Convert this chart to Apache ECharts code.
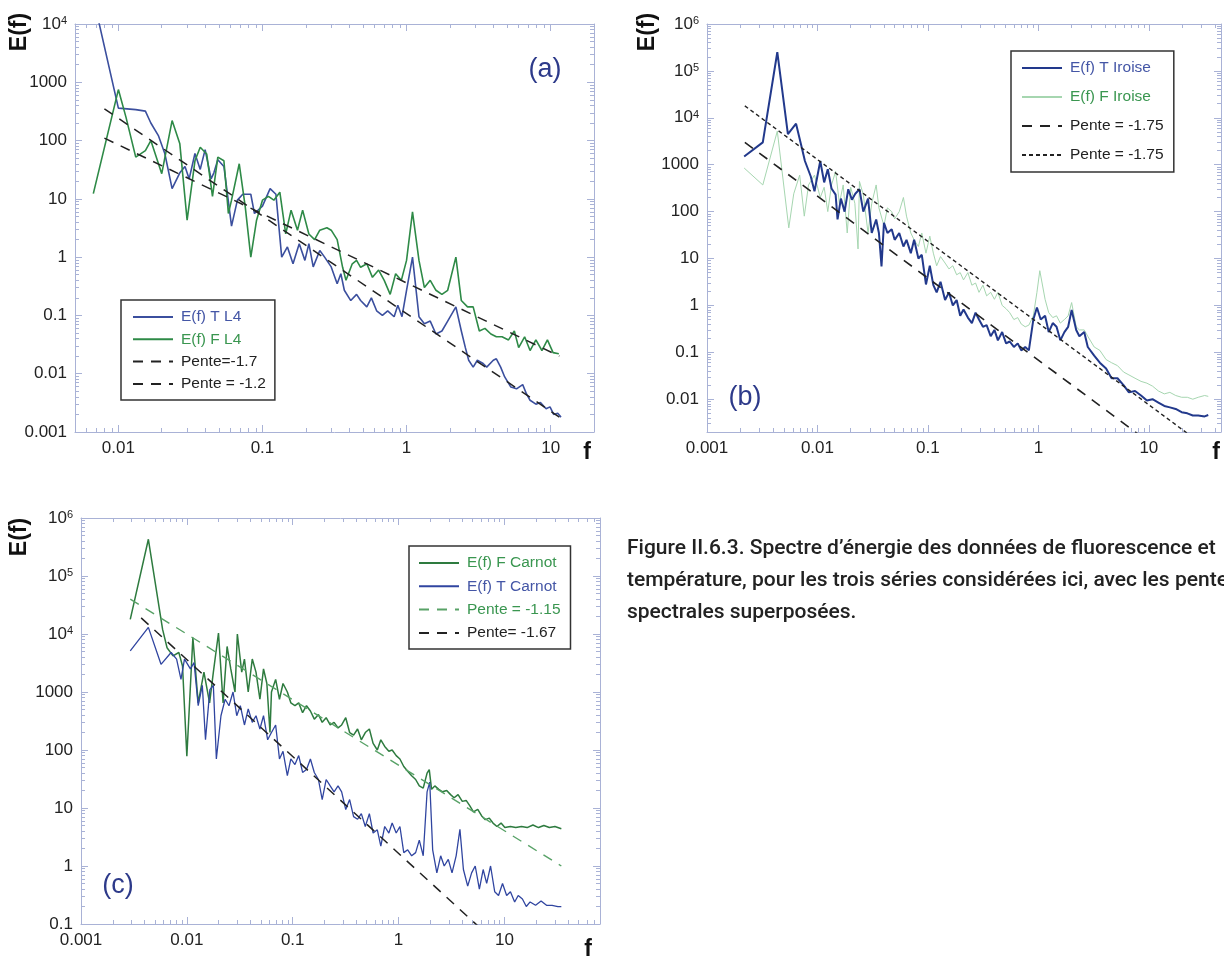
<!DOCTYPE html>
<html>
<head>
<meta charset="utf-8">
<title>Spectres d'énergie</title>
<script src="https://cdn.jsdelivr.net/npm/echarts@6/dist/echarts.min.js"></script>
<style>
html, body { margin: 0; padding: 0; background: #fff; }
#main { width: 1224px; height: 961px; }
</style>
</head>
<body>
<div id="main"></div>
<script>
// ---- panel (a) : L4  [f, E(f)]
var tL4 = [[0.0068,24000],[0.01,360],[0.0132,340],[0.0154,320],[0.0168,200],[0.019,120],[0.021,60],[0.0236,15],[0.0267,28],[0.029,36],[0.031,22],[0.034,60],[0.037,32],[0.04,70],[0.044,22],[0.046,28],[0.049,47],[0.054,36],[0.061,3.4],[0.067,9.5],[0.073,12],[0.078,12],[0.083,12],[0.088,5.6],[0.1,7.5],[0.113,15],[0.124,12],[0.136,1.0],[0.149,1.5],[0.163,0.77],[0.18,1.7],[0.197,0.88],[0.21,1.7],[0.225,0.68],[0.25,1.3],[0.27,1.0],[0.3,0.68],[0.33,0.35],[0.35,0.52],[0.37,0.27],[0.41,0.18],[0.45,0.23],[0.48,0.18],[0.53,0.14],[0.57,0.2],[0.62,0.12],[0.68,0.1],[0.74,0.12],[0.82,0.095],[0.87,0.15],[0.93,0.095],[1.0,0.27],[1.1,1.0],[1.22,0.095],[1.33,0.072],[1.46,0.08],[1.6,0.048],[1.76,0.054],[1.93,0.08],[2.2,0.14],[2.4,0.054],[2.56,0.028],[2.7,0.017],[2.9,0.013],[3.1,0.017],[3.4,0.015],[3.6,0.013],[4.0,0.017],[4.2,0.018],[4.5,0.013],[4.8,0.0088],[5.3,0.0059],[5.8,0.0055],[6.4,0.0065],[6.8,0.0045],[7.2,0.0035],[7.9,0.003],[8.5,0.0032],[9.3,0.0025],[9.9,0.0027],[10.5,0.002],[11.2,0.0021],[11.8,0.0018]];
var fL4 = [[0.0067,12.3],[0.01,750],[0.0113,250],[0.0132,52],[0.0154,67],[0.0168,100],[0.02,27],[0.0236,220],[0.0267,88],[0.03,4.3],[0.034,45],[0.037,77],[0.041,59],[0.045,11],[0.049,52],[0.054,45],[0.058,5.6],[0.061,9.5],[0.069,40],[0.076,7.2],[0.083,1.0],[0.091,4.3],[0.1,9.5],[0.11,11],[0.12,9.5],[0.132,13],[0.145,2.5],[0.158,6.4],[0.175,2.9],[0.19,6.4],[0.21,2.5],[0.23,2.0],[0.25,2.9],[0.28,3.2],[0.3,2.9],[0.33,2.0],[0.36,0.67],[0.38,0.4],[0.42,0.77],[0.45,0.88],[0.48,0.67],[0.53,0.77],[0.58,0.45],[0.64,0.6],[0.7,0.4],[0.77,0.23],[0.84,0.52],[0.92,0.4],[1.0,0.88],[1.1,6.0],[1.22,0.88],[1.33,0.3],[1.46,0.4],[1.6,0.27],[1.76,0.23],[1.93,0.27],[2.2,1.0],[2.4,0.18],[2.65,0.14],[2.9,0.14],[3.2,0.054],[3.5,0.06],[3.85,0.048],[4.2,0.043],[4.6,0.043],[5.1,0.038],[5.6,0.054],[6.0,0.028],[6.6,0.043],[7.2,0.025],[7.9,0.038],[8.7,0.025],[9.5,0.038],[10.4,0.023],[11.4,0.022]];
var penteA1 = [[0.008,350],[11.5,0.0018]];   // -1.7
var penteA2 = [[0.008,110],[11.5,0.02]];     // -1.2

// ---- panel (b) : Iroise
var tIroise = [[0.00217,1500],[0.0032,3000],[0.00433,250000],[0.0054,4500],[0.0064,7500],[0.0071,2700],[0.0077,1200],[0.0087,560],[0.0094,270],[0.0106,1200],[0.0115,420],[0.0124,800],[0.0134,310],[0.0146,230],[0.0152,68],[0.0163,190],[0.0176,100],[0.019,300],[0.0205,180],[0.022,240],[0.024,300],[0.026,100],[0.0287,190],[0.031,35],[0.034,68],[0.036,35],[0.038,6.8],[0.04,58],[0.043,35],[0.047,42],[0.05,25],[0.055,35],[0.06,18],[0.064,25],[0.07,13],[0.075,25],[0.082,10],[0.088,12],[0.096,2.8],[0.104,7],[0.112,2.7],[0.12,1.9],[0.13,3.2],[0.143,1.3],[0.155,1.9],[0.168,1.0],[0.182,1.3],[0.196,0.6],[0.21,0.82],[0.23,0.55],[0.25,0.42],[0.27,0.7],[0.29,0.5],[0.315,0.35],[0.34,0.38],[0.37,0.22],[0.4,0.3],[0.43,0.18],[0.47,0.27],[0.51,0.155],[0.55,0.17],[0.6,0.13],[0.65,0.155],[0.7,0.11],[0.76,0.13],[0.82,0.11],[0.9,0.5],[0.97,0.9],[1.05,0.5],[1.15,0.6],[1.24,0.27],[1.35,0.42],[1.46,0.35],[1.58,0.18],[1.72,0.27],[1.86,0.35],[2.0,0.8],[2.2,0.3],[2.35,0.22],[2.6,0.27],[2.8,0.13],[3.2,0.085],[3.6,0.06],[4.1,0.045],[4.6,0.028],[5.2,0.028],[5.9,0.02],[6.6,0.014],[7.5,0.015],[8.5,0.012],[9.6,0.0094],[10.8,0.01],[12.2,0.0085],[13.8,0.0072],[15.5,0.0067],[17.5,0.0062],[19.8,0.0053],[22.3,0.005],[25,0.0045],[28,0.0045],[32,0.0043],[34.5,0.0046]];
var fIroise = [[0.00217,850],[0.0032,370],[0.00433,5200],[0.0055,45],[0.0061,240],[0.0069,600],[0.0076,80],[0.0083,370],[0.0094,600],[0.0106,200],[0.0115,330],[0.0124,100],[0.0134,370],[0.0146,720],[0.0158,150],[0.0171,370],[0.0186,35],[0.02,330],[0.0218,150],[0.0233,16],[0.024,440],[0.026,230],[0.0287,35],[0.031,150],[0.034,370],[0.036,120],[0.04,50],[0.043,120],[0.047,100],[0.05,70],[0.055,100],[0.06,200],[0.064,80],[0.07,35],[0.075,25],[0.082,18],[0.088,35],[0.096,13],[0.104,30],[0.112,13],[0.12,7],[0.13,11],[0.143,8],[0.155,6],[0.168,7],[0.182,4.5],[0.196,5],[0.21,3.5],[0.23,5],[0.25,2.7],[0.27,3],[0.29,1.9],[0.315,2.7],[0.34,1.6],[0.37,1.9],[0.4,1.35],[0.43,1.9],[0.47,1.0],[0.51,0.85],[0.55,0.7],[0.6,0.5],[0.65,0.55],[0.7,0.4],[0.76,0.35],[0.82,0.38],[0.9,0.6],[0.97,1.9],[1.03,5.5],[1.15,1.35],[1.24,0.7],[1.35,0.55],[1.46,0.6],[1.58,0.42],[1.72,0.5],[1.86,0.6],[2.0,1.15],[2.2,0.35],[2.35,0.3],[2.6,0.3],[2.8,0.22],[3.2,0.13],[3.6,0.11],[4.1,0.07],[4.6,0.06],[5.2,0.052],[5.9,0.038],[6.6,0.033],[7.5,0.028],[8.5,0.024],[9.6,0.022],[10.8,0.019],[12.2,0.015],[13.8,0.013],[15.5,0.014],[17.5,0.012],[19.8,0.011],[22.3,0.011],[25,0.01],[28,0.011],[32,0.012],[34.5,0.0115]];
var penteB1 = [[0.0022,3000],[10,0.00122]];    // long dashes
var penteB2 = [[0.0022,18000],[30,0.00112]];   // short dashes

// ---- panel (c) : Carnot
var fCarnot = [[0.00292,17900],[0.00433,430000],[0.0059,12000],[0.0065,5800],[0.0074,4200],[0.0084,4800],[0.0091,2800],[0.01,78],[0.0114,8700],[0.0128,650],[0.0145,2200],[0.0164,650],[0.0178,2200],[0.0199,10400],[0.022,650],[0.024,6100],[0.026,2500],[0.0285,1000],[0.03,10000],[0.033,2200],[0.035,3700],[0.038,1000],[0.0415,3700],[0.045,2200],[0.049,750],[0.053,2500],[0.057,1400],[0.061,200],[0.063,1000],[0.069,1650],[0.075,750],[0.081,1400],[0.089,1000],[0.096,650],[0.105,580],[0.114,650],[0.124,440],[0.135,580],[0.147,470],[0.16,340],[0.175,410],[0.19,300],[0.207,360],[0.226,270],[0.246,300],[0.268,240],[0.29,270],[0.317,360],[0.345,200],[0.376,180],[0.41,230],[0.445,150],[0.485,200],[0.53,230],[0.575,130],[0.63,100],[0.68,150],[0.74,115],[0.81,95],[0.87,100],[0.95,80],[1.03,70],[1.12,52],[1.22,43],[1.33,36],[1.45,31],[1.57,24],[1.71,22],[1.86,40],[1.95,46],[2.05,21],[2.2,24],[2.4,21],[2.6,19],[2.85,20],[3.1,17],[3.35,15],[3.65,17],[4.0,13],[4.35,13.5],[4.7,11],[5.1,8.6],[5.6,9.5],[6.1,7.3],[6.6,6.3],[7.2,6.7],[7.8,5.5],[8.5,4.8],[9.3,5.5],[10.1,4.6],[11.4,4.8],[12.8,4.6],[14.5,4.8],[16.4,4.6],[18.6,5.1],[21,4.6],[23.6,5.0],[26.6,4.6],[30,4.8],[34.5,4.4]];
var tCarnot = [[0.00292,5100],[0.00433,13000],[0.0057,3000],[0.0071,4800],[0.008,3700],[0.0088,1650],[0.0095,3700],[0.0108,2500],[0.0117,3200],[0.0128,580],[0.014,1300],[0.015,150],[0.0165,1100],[0.0178,1300],[0.019,70],[0.021,390],[0.023,750],[0.025,580],[0.0273,1000],[0.0296,390],[0.032,580],[0.035,270],[0.038,510],[0.0415,300],[0.045,390],[0.049,230],[0.053,390],[0.058,150],[0.063,200],[0.069,270],[0.075,70],[0.081,95],[0.089,36],[0.096,70],[0.105,56],[0.114,80],[0.124,41],[0.135,46],[0.147,70],[0.16,41],[0.175,31],[0.19,14],[0.207,31],[0.226,24],[0.246,19],[0.268,24],[0.29,19],[0.317,9.4],[0.345,14],[0.376,7.1],[0.41,6.4],[0.445,8],[0.485,4.8],[0.53,8],[0.575,3.7],[0.63,4.2],[0.68,2.2],[0.74,4.8],[0.81,3.7],[0.87,5.5],[0.95,3.7],[1.03,4.8],[1.12,1.7],[1.22,1.9],[1.33,1.5],[1.45,1.7],[1.57,2.8],[1.71,1.5],[1.86,19],[1.97,28],[2.1,1.9],[2.3,0.76],[2.5,1.5],[2.7,1.0],[2.95,1.3],[3.2,0.76],[3.5,1.5],[3.8,4.3],[4.1,0.87],[4.5,0.45],[4.9,0.76],[5.3,1.0],[5.8,0.4],[6.3,0.87],[6.8,0.5],[7.4,1.0],[8.1,0.36],[8.8,0.31],[9.6,0.5],[10.5,0.31],[11.4,0.36],[12.5,0.24],[13.5,0.31],[14.8,0.27],[16.1,0.2],[17.5,0.24],[19.7,0.21],[22.2,0.25],[25,0.21],[28.2,0.21],[32,0.2],[34.5,0.2]];
var penteC1 = [[0.00292,40000],[34.5,1.0]];   // -1.15
var penteC2 = [[0.0037,19000],[6,0.083]];     // -1.67

var caption = [
  'Figure II.6.3. Spectre d\u2019énergie des données de fluorescence et',
  'température, pour les trois séries considérées ici, avec les pentes',
  'spectrales superposées.'
];

var frameColor = '#a9b2d6';
var fontTxt = '"Liberation Sans", Arial, sans-serif';
var blueTxt = '#4456a6', greenTxt = '#3a9650';

function decadeLabel(v) {
  var p = Math.log10(v), k = Math.round(p);
  if (Math.abs(p - k) > 0.01) return '';
  if (k >= 4) return '10{s|' + k + '}';
  if (k >= 0) return String(Math.pow(10, k));
  return Math.pow(10, k).toFixed(-k);
}

function logAxis(gi, pos, min, max, labels) {
  return {
    type: 'log', gridIndex: gi, position: pos, min: min, max: max, splitNumber: 10,
    axisLine: { show: true, onZero: false, lineStyle: { color: frameColor, width: 1 } },
    axisTick: { show: true, inside: true, length: 7, lineStyle: { color: frameColor } },
    minorTick: { show: true, splitNumber: 9, length: 4, lineStyle: { color: frameColor } },
    splitLine: { show: false },
    minorSplitLine: { show: false },
    axisLabel: {
      show: labels, margin: 8, color: '#222', fontSize: 17, fontFamily: fontTxt,
      formatter: decadeLabel, showMinLabel: true, showMaxLabel: true,
      rich: { s: { fontSize: 11, verticalAlign: 'top', lineHeight: 10, color: '#222', fontFamily: fontTxt } }
    }
  };
}

function line(name, data, xi, color, width, type) {
  return {
    name: name, type: 'line', xAxisIndex: xi, yAxisIndex: xi, data: data,
    symbol: 'none', showSymbol: false, animation: false, silent: true,
    lineStyle: { color: color, width: width, type: type || 'solid' },
    itemStyle: { color: color }
  };
}

function legendBox(left, top, pad, gap, items) {
  return {
    orient: 'vertical', left: left, top: top, padding: pad, itemGap: gap,
    itemWidth: 40, itemHeight: 14, selectedMode: false,
    borderColor: '#333', borderWidth: 1.5, borderRadius: 0,
    itemStyle: { opacity: 0 },
    textStyle: { fontSize: 15.5, fontFamily: fontTxt, color: '#222', padding: [0, 0, 0, 3] },
    data: items
  };
}

var myChart = echarts.init(document.getElementById('main'), null, { renderer: 'canvas' });

var option = {
  backgroundColor: '#fff',
  animation: false,
  grid: [
    { left: 75, top: 24, width: 519, height: 408, outerBoundsMode: 'none' },
    { left: 707, top: 24, width: 514, height: 408, outerBoundsMode: 'none' },
    { left: 81, top: 518, width: 519, height: 406, outerBoundsMode: 'none' }
  ],
  xAxis: [
    logAxis(0, 'bottom', 0.005, 20, true),
    logAxis(0, 'top', 0.005, 20, false),
    logAxis(1, 'bottom', 0.001, 45, true),
    logAxis(1, 'top', 0.001, 45, false),
    logAxis(2, 'bottom', 0.001, 80, true),
    logAxis(2, 'top', 0.001, 80, false)
  ],
  yAxis: [
    logAxis(0, 'left', 0.001, 10000, true),
    logAxis(0, 'right', 0.001, 10000, false),
    logAxis(1, 'left', 0.002, 1000000, true),
    logAxis(1, 'right', 0.002, 1000000, false),
    logAxis(2, 'left', 0.1, 1000000, true),
    logAxis(2, 'right', 0.1, 1000000, false)
  ],
  legend: [
    legendBox(121, 300, [9, 9, 8, 11], 6.3, [
      { name: 'E(f) T L4', textStyle: { color: blueTxt } },
      { name: 'E(f) F L4', textStyle: { color: greenTxt } },
      { name: 'Pente=-1.7' },
      { name: 'Pente = -1.2' }
    ]),
    legendBox(1011, 51, [9, 6, 9, 10], 13, [
      { name: 'E(f) T Iroise', textStyle: { color: blueTxt } },
      { name: 'E(f) F Iroise', textStyle: { color: greenTxt } },
      { name: 'Pente = -1.75' },
      { name: 'Pente = -1.75 ' }
    ]),
    legendBox(409, 546, [9, 10, 8, 9], 7.3, [
      { name: 'E(f) F Carnot', textStyle: { color: greenTxt } },
      { name: 'E(f) T Carnot', textStyle: { color: blueTxt } },
      { name: 'Pente = -1.15', textStyle: { color: greenTxt } },
      { name: 'Pente= -1.67' }
    ])
  ],
  series: [
    line('E(f) T L4', tL4, 0, '#3b4f9e', 1.6),
    line('E(f) F L4', fL4, 0, '#2e8a47', 1.6),
    line('Pente=-1.7', penteA1, 0, '#222', 1.5, [10, 8]),
    line('Pente = -1.2', penteA2, 0, '#222', 1.5, [10, 8]),

    line('E(f) F Iroise', fIroise, 2, '#a6d6b0', 1),
    line('E(f) T Iroise', tIroise, 2, '#22398c', 2),
    line('Pente = -1.75', penteB1, 2, '#222', 1.6, [10, 8]),
    line('Pente = -1.75 ', penteB2, 2, '#222', 1.4, [4, 3]),

    line('E(f) F Carnot', fCarnot, 4, '#2e7b3f', 1.5),
    line('E(f) T Carnot', tCarnot, 4, '#3045a0', 1.3),
    line('Pente = -1.15', penteC1, 4, '#58a267', 1.4, [10, 8]),
    line('Pente= -1.67', penteC2, 4, '#222', 1.5, [10, 8])
  ],
  graphic: [
    { type: 'text', x: 20, y: 32, rotation: Math.PI / 2, style: { text: 'E(f)', font: 'bold 23px "Liberation Sans", Arial', fill: '#111', align: 'center', verticalAlign: 'middle' } },
    { type: 'text', x: 648, y: 32, rotation: Math.PI / 2, style: { text: 'E(f)', font: 'bold 23px "Liberation Sans", Arial', fill: '#111', align: 'center', verticalAlign: 'middle' } },
    { type: 'text', x: 20, y: 537, rotation: Math.PI / 2, style: { text: 'E(f)', font: 'bold 23px "Liberation Sans", Arial', fill: '#111', align: 'center', verticalAlign: 'middle' } },
    { type: 'text', x: 587, y: 453, style: { text: 'f', font: 'bold 23px "Liberation Sans", Arial', fill: '#111', align: 'center', verticalAlign: 'middle' } },
    { type: 'text', x: 1216, y: 453, style: { text: 'f', font: 'bold 23px "Liberation Sans", Arial', fill: '#111', align: 'center', verticalAlign: 'middle' } },
    { type: 'text', x: 588, y: 950, style: { text: 'f', font: 'bold 23px "Liberation Sans", Arial', fill: '#111', align: 'center', verticalAlign: 'middle' } },
    { type: 'text', x: 545, y: 70, style: { text: '(a)', font: '27px "Liberation Sans", Arial', fill: '#2d3a8a', align: 'center', verticalAlign: 'middle' } },
    { type: 'text', x: 745, y: 398, style: { text: '(b)', font: '27px "Liberation Sans", Arial', fill: '#2d3a8a', align: 'center', verticalAlign: 'middle' } },
    { type: 'text', x: 118, y: 886, style: { text: '(c)', font: '27px "Liberation Sans", Arial', fill: '#2d3a8a', align: 'center', verticalAlign: 'middle' } },
    { type: 'text', x: 627, y: 549, style: { text: caption[0], font: '500 21px Roboto, "Liberation Sans"', fill: '#222', verticalAlign: 'middle' } },
    { type: 'text', x: 627, y: 581, style: { text: caption[1], font: '500 21px Roboto, "Liberation Sans"', fill: '#222', verticalAlign: 'middle' } },
    { type: 'text', x: 627, y: 613, style: { text: caption[2], font: '500 21px Roboto, "Liberation Sans"', fill: '#222', verticalAlign: 'middle' } }
  ]
};

myChart.setOption(option);
window.addEventListener('resize', function () {
  myChart.resize();
});
</script>
</body>
</html>
